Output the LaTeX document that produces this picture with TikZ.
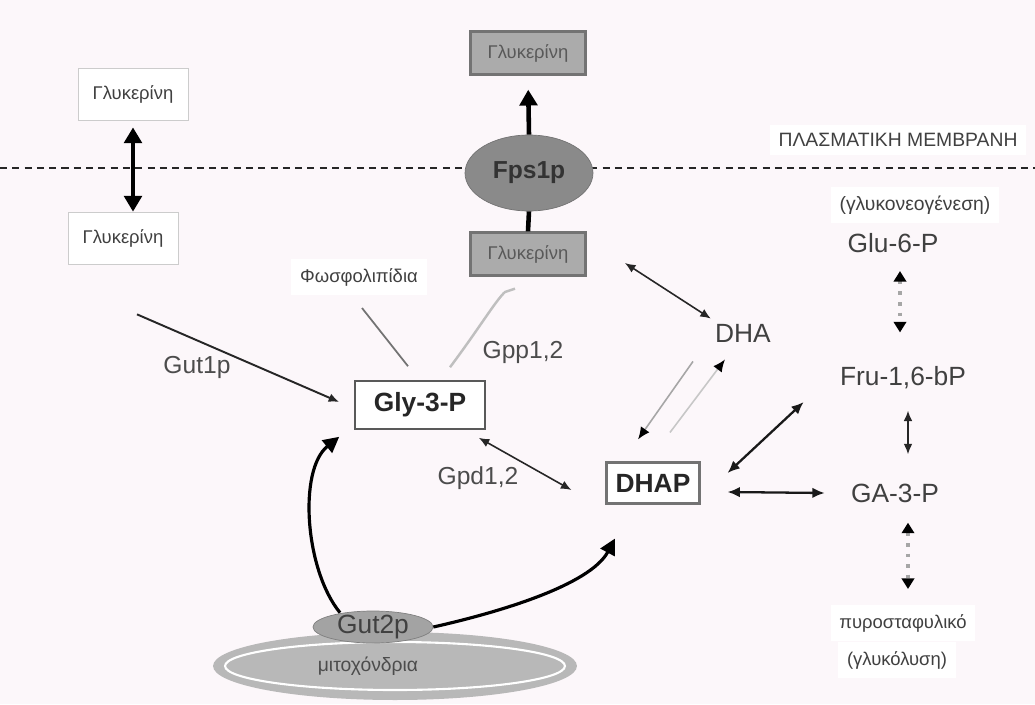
\documentclass[tikz,border=0pt]{standalone}
\usepackage{fontspec}
\setmainfont{Liberation Sans}
\usetikzlibrary{arrows.meta,shapes.geometric}
\definecolor{bgpink}{RGB}{252,247,250}
\begin{document}
\begin{tikzpicture}[x=0.02cm,y=-0.02cm,
  glybox/.style={draw=black!20, fill=white, minimum width=2.2cm, minimum height=1.04cm, font=\fontsize{10.5}{12}\selectfont, text=black!75},
  graybox/.style={draw=black!55, fill=black!33, line width=1.6pt, minimum width=2.3cm, minimum height=0.85cm, font=\fontsize{10.5}{12}\selectfont, text=black!65},
  metbox/.style={draw=black!65, fill=white, line width=0.9pt, font=\bfseries\fontsize{15}{17}\selectfont, text=black!85},
  metab/.style={font=\fontsize{15}{17}\selectfont, text=black!75, inner sep=0pt},
  enzyme/.style={font=\fontsize{14}{16}\selectfont, text=black!70},
  note/.style={font=\fontsize{10.5}{12}\selectfont, text=black!75, fill=white, inner sep=5pt},
  membrane/.style={dash pattern=on 4pt off 3pt, line width=1.1pt, black!85},
  dblthick/.style={line width=2.6pt, {Triangle[length=9pt,width=10pt]}-{Triangle[length=9pt,width=10pt]}},
  flowthick/.style={line width=2.6pt, -{Triangle[length=9pt,width=10pt]}},
  dbl/.style={line width=0.9pt, black!85, {Latex[length=6pt,width=5pt]}-{Latex[length=6pt,width=5pt]}},
  dblmid/.style={line width=1.3pt, black!90, {Latex[length=7pt,width=6pt]}-{Latex[length=7pt,width=6pt]}},
  paleflow/.style={line width=0.9pt, black!35, -{Latex[length=7pt,width=6pt,color=black]}},
  dotdbl/.style={line width=2pt, black!35, dash pattern=on 2pt off 4pt, {Triangle[length=6pt,width=7pt,color=black]}-{Triangle[length=6pt,width=7pt,color=black]}},
  curveflow/.style={line width=1.8pt, -{Triangle[length=9pt,width=9pt]}}]
\fill[bgpink] (0,0) rectangle (1035,704);
\useasboundingbox (0,0) rectangle (1035,704);
% membrane
\draw[membrane] (0,168) -- (1035,168);
\node[note, font=\fontsize{11}{13}\selectfont] (memlab) at (898,140) {ΠΛΑΣΜΑΤΙΚΗ ΜΕΜΒΡΑΝΗ};

% glycerol boxes
\node[glybox] (glyout) at (133,94) {Γλυκερίνη};
\node[glybox] (glyin) at (123,238) {Γλυκερίνη};
\node[graybox] (fpsout) at (528,53) {Γλυκερίνη};
\node[graybox] (fpsin) at (528,254) {Γλυκερίνη};
\draw[dblthick, shorten <=4pt] (glyout.south) -- (glyout.south |- glyin.north);
\node[ellipse, fill=black!46, draw=black!55, minimum width=2.56cm, minimum height=1.52cm,
  font=\bfseries\fontsize{14}{16}\selectfont, text=black!80] (fps) at (529,173) {Fps1p};
\draw[flowthick, shorten >=8pt] (fps.north) -- (fpsout.south);
\draw[line width=2.6pt] (fps.south) -- (fpsin.north);

% central metabolites
\node[metbox, minimum width=2.6cm, minimum height=0.96cm] (gly) at (420,405) {Gly-3-P};
\node[metbox, line width=1.2pt, draw=black!55, minimum width=1.86cm, minimum height=0.82cm] (dhap) at (653,483) {DHAP};
\node[metab] (dha) at (743,333) {DHA};
\node[note] (phos) at (359,277) {Φωσφολιπίδια};
\node[enzyme] (gut1lab) at (197,367) {Gut1p};
\node[enzyme] (gpplab) at (523,352) {Gpp1,2};
\node[enzyme] (gpdlab) at (478,478) {Gpd1,2};

\draw[dbl, line width=1.1pt, -{Latex[length=6pt,width=5pt]}] ([shift={(14,50)}]glyin.south) -- ([shift={(-15,-3)}]gly.west);
\draw[line width=1pt, black!55] ([shift={(3,13)}]phos.south) -- ([shift={(-12,-14)}]gly.north);
\draw[line width=1.4pt, black!25] ([shift={(30,-13)}]gly.north) .. controls (478,330) and (496,300) .. (505,292) -- ([shift={(-13,12)}]fpsin.south);
\draw[dbl] ([shift={(38,9)}]fpsin.east) -- ([shift={(-4,-5)}]dha.north west);
\draw[paleflow] ([shift={(-50,19)}]dha.south) -- ([shift={(-15,-22)}]dhap.north);
\draw[paleflow, black!22] ([shift={(17,-29)}]dhap.north) -- ([shift={(-18,17)}]dha.south);
\draw[dbl] ([shift={(-7,8)}]gly.south east) -- ([shift={(-34,7)}]dhap.west);

% glycolysis / gluconeogenesis
\node[note, font=\fontsize{11}{13}\selectfont] (gneo) at (915,205) {(γλυκονεογένεση)};
\node[metab] (glu6p) at (893,243) {Glu-6-P};
\node[metab] (fru) at (903,378) {Fru-1,6-bP};
\node[metab] (ga3p) at (895,493) {GA-3-P};
\node[note] (pyr) at (903,623) {πυροσταφυλικό};
\node[note] (glycol) at (897,660) {(γλυκόλυση)};
\draw[dotdbl] ([shift={(7,18)}]glu6p.south) -- ([shift={(-3,-34)}]fru.north);
\draw[dblmid] ([shift={(27,-10)}]dhap.east) -- ([shift={(-36,24)}]fru.west);
\draw[dblmid] ([shift={(27,9)}]dhap.east) -- ([shift={(-26,0)}]ga3p.west);
\draw[dbl] ([shift={(5,21)}]fru.south) -- ([shift={(13,-29)}]ga3p.north);
\draw[dotdbl] ([shift={(13,20)}]ga3p.south) -- ([shift={(5,-16)}]pyr.north);

% mitochondrion
\node[ellipse, fill=black!28, minimum width=7.28cm, minimum height=1.36cm] (mito) at (395,666) {};
\node[ellipse, draw=white, line width=1.2pt, minimum width=6.8cm, minimum height=0.96cm] (mitoin) at (mito) {};
\node[font=\fontsize{11}{13}\selectfont, text=black!70] (mitolab) at (368,666) {μιτοχόνδρια};
\node[ellipse, fill=black!36, draw=black!50, inner sep=0pt, text height=8pt, text depth=1pt,
  minimum width=2.4cm, minimum height=0.64cm, font=\fontsize{15}{17}\selectfont, text=black!75] (gut2) at (373,627) {Gut2p};
\draw[curveflow] ([shift={(-33,2)}]gut2.north) .. controls (305,570) and (298,470) .. ([shift={(-15,7)}]gly.south west);
\draw[curveflow] (gut2.east) .. controls (500,612) and (590,585) .. ([shift={(-38,34)}]dhap.south);
\end{tikzpicture}
\end{document}
